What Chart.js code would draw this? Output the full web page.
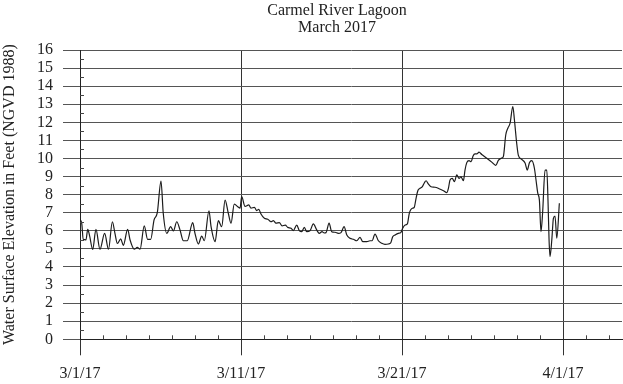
<!DOCTYPE html>
<html lang="en">
<head>
    <meta charset="UTF-8">
    <title>Carmel River Lagoon</title>
    <script src="https://cdn.jsdelivr.net/npm/chart.js@4/dist/chart.umd.min.js"></script>
    <style>
        html, body { margin: 0; padding: 0; background: #fff; }
        #wrap { width: 623px; height: 384px; }
    </style>
</head>
<body>
    <div id="wrap"><canvas id="lagoonChart" width="623" height="384"></canvas></div>

    <script>
        // days after 3/1/17 (axis unit: major gridline every 10)
        const dayOffset = [
            0, 0.11, 0.20, 0.37, 0.48, 0.59, 0.79, 0.99, 1.24, 1.53, 1.77, 2.01, 2.17, 2.32, 2.53, 2.69,
            2.96, 3.11, 3.37, 3.56, 3.73, 3.99, 4.20, 4.39, 4.60, 4.80, 5.03, 5.17, 5.39, 5.63, 5.80,
            6.01, 6.21, 6.42, 6.66, 7.00, 7.14, 7.35, 7.56, 7.72, 8.01, 8.14, 8.39, 8.59, 8.80, 9.01,
            9.21, 9.38, 9.58, 9.80, 9.94, 10.04, 10.25, 10.48, 10.62, 10.83, 10.98, 11.10, 11.24, 11.45,
            11.66, 11.86, 12.01, 12.17, 12.38, 12.55, 12.75, 12.90, 13.11, 13.25, 13.46, 13.62, 13.77,
            13.93, 14.08, 14.29, 14.49, 14.70, 14.86, 15.03, 15.17, 15.28, 15.47, 15.63, 15.84, 16.04,
            16.21, 16.40, 16.57, 16.77, 16.98, 17.19, 17.39, 17.56, 17.81, 18.01, 18.14, 18.32, 18.53,
            18.74, 18.94, 19.15, 19.30, 19.42, 19.57, 19.77, 19.92, 20.04, 20.19, 20.33, 20.45, 20.53,
            20.64, 20.76, 20.85, 20.98, 21.12, 21.26, 21.39, 21.49, 21.63, 21.80, 22.05, 22.30, 22.57,
            22.78, 22.88, 22.98, 23.12, 23.25, 23.40, 23.54, 23.66, 23.81, 23.91, 24.02, 24.16, 24.29,
            24.41, 24.53, 24.64, 24.78, 24.95, 25.26, 25.57, 25.82, 25.98, 26.15, 26.29, 26.44, 26.57,
            26.71, 26.88, 26.98, 27.12, 27.22, 27.43, 27.64, 27.78, 27.91, 28.06, 28.22, 28.32, 28.43,
            28.53, 28.63, 28.73, 28.88, 28.99, 29.07, 29.13, 29.19, 29.30, 29.40, 29.50, 29.61, 29.77
        ];

        // water surface elevation, feet
        const elevation = [
            6.64, 6.40, 5.53, 5.50, 6.08, 5.75, 4.97, 6.08, 4.98, 5.86, 4.98, 6.50, 5.86, 5.30, 5.55, 5.20,
            6.08, 5.49, 4.98, 5.08, 4.98, 6.27, 5.53, 5.53, 6.60, 7.00, 8.75, 6.97, 5.86, 6.23, 5.99,
            6.50, 6.05, 5.45, 5.45, 6.45, 5.86, 5.27, 5.71, 5.45, 7.11, 6.23, 5.40, 6.56, 6.23, 7.70,
            6.97, 6.42, 7.48, 7.33, 7.25, 7.89, 7.35, 7.43, 7.25, 7.30, 7.12, 7.19, 6.93, 6.69,
            6.64, 6.50, 6.56, 6.42, 6.45, 6.27, 6.32, 6.19, 6.14, 6.01, 6.32, 6.01, 5.95,
            6.19, 5.95, 6.01, 6.38, 6.05, 5.86, 5.95, 5.88, 5.90, 6.42, 5.95, 5.92, 5.86,
            5.90, 6.23, 5.77, 5.59, 5.53, 5.45, 5.64, 5.40, 5.40, 5.45, 5.45, 5.82, 5.45,
            5.31, 5.25, 5.27, 5.34, 5.67, 5.77, 5.86, 5.90, 6.14, 6.32, 6.38, 6.97, 7.15,
            7.25, 7.30, 7.70, 8.22, 8.35, 8.44, 8.66, 8.77, 8.59, 8.44, 8.41, 8.33, 8.22,
            8.11, 8.35, 8.81, 8.90, 8.72, 9.09, 8.90, 8.99, 8.77, 9.36, 9.77, 9.88, 9.82,
            10.14, 10.25, 10.25, 10.35, 10.22, 10.01, 9.80, 9.62, 9.90, 10.01, 10.10, 11.30, 11.67,
            11.95, 12.87, 12.13, 10.84, 10.19, 9.95, 9.75, 9.36, 9.77, 9.88, 9.46, 8.81, 8.08,
            7.70, 5.95, 7.00, 9.36, 9.36, 7.50, 5.50, 4.57, 5.49, 6.69, 6.82, 5.59, 7.52
        ];

        const dateLabels = ['3/1/17', '3/11/17', '3/21/17', '4/1/17'];
        const titleLines = ['Carmel River Lagoon', 'March 2017'];
        const minorPerMajor = 7;      // small ticks between labelled dates
        const majorStep = 10;         // days between labelled dates
        const xMax = 33.66;
        const yMin = 0, yMax = 16;

        const serif = 'Liberation Serif, Times New Roman, serif';
        const minorStep = majorStep / minorPerMajor;

        // small inward tick marks at half feet and between dates
        const minorTicks = {
            id: 'minorTicks',
            afterDatasetsDraw(chart) {
                const { ctx, scales: { x, y }, chartArea } = chart;
                ctx.save();
                ctx.strokeStyle = '#444';
                ctx.lineWidth = 1;
                ctx.beginPath();
                for (let v = yMin + 0.5; v < yMax; v += 1) {
                    const py = Math.round(y.getPixelForValue(v)) + 0.5;
                    ctx.moveTo(chartArea.left, py);
                    ctx.lineTo(chartArea.left + 4, py);
                }
                for (let k = 1; k * minorStep <= xMax; k++) {
                    if (k % minorPerMajor === 0) continue;
                    const px = Math.round(x.getPixelForValue(k * minorStep)) + 0.5;
                    ctx.moveTo(px, chartArea.bottom);
                    ctx.lineTo(px, chartArea.bottom - 4);
                }
                ctx.stroke();
                ctx.restore();
            }
        };

        // two-line title, centred a bit right of the canvas middle like the original
        const chartTitle = {
            id: 'chartTitle',
            afterDraw(chart) {
                const { ctx } = chart;
                ctx.save();
                ctx.fillStyle = '#222';
                ctx.font = '16px ' + serif;
                ctx.textAlign = 'center';
                ctx.textBaseline = 'alphabetic';
                ctx.fillText(titleLines[0], 337, 15);
                ctx.fillText(titleLines[1], 337, 31.7);
                ctx.restore();
            }
        };

        const ctx = document.getElementById('lagoonChart').getContext('2d');
        new Chart(ctx, {
            type: 'line',
            data: {
                datasets: [{
                    label: 'Water Surface Elevation',
                    data: dayOffset.map((d, i) => ({ x: d, y: elevation[i] })),
                    borderColor: '#1c1c1c',
                    borderWidth: 1.2,
                    pointRadius: 0,
                    cubicInterpolationMode: 'monotone',
                    fill: false
                }]
            },
            options: {
                responsive: false,
                animation: false,
                layout: { padding: { left: 0, right: 1, top: 50, bottom: 0 } },
                plugins: {
                    legend: { display: false },
                    tooltip: { enabled: false },
                    title: { display: false }
                },
                scales: {
                    x: {
                        type: 'linear',
                        min: 0,
                        max: xMax,
                        afterBuildTicks(scale) {
                            const t = [];
                            for (let k = 0; k * minorStep <= xMax; k++) t.push({ value: k * minorStep });
                            scale.ticks = t;
                        },
                        afterFit(scale) { scale.height = 44.7; },
                        ticks: {
                            autoSkip: false,
                            maxRotation: 0,
                            padding: 9,
                            color: '#222',
                            font: { family: serif, size: 16 },
                            callback(value, index) {
                                return index % minorPerMajor === 0 ? dateLabels[index / minorPerMajor] : '';
                            }
                        },
                        grid: {
                            color: (c) => (c.index % minorPerMajor === 0 ? '#333' : 'rgba(0,0,0,0)'),
                            tickLength: 16,
                            lineWidth: 1
                        },
                        border: { display: true, color: '#222', width: 1 }
                    },
                    y: {
                        min: yMin,
                        max: yMax,
                        afterFit(scale) { scale.width = 80; },
                        ticks: {
                            stepSize: 1,
                            autoSkip: false,
                            padding: 10,
                            color: '#222',
                            font: { family: serif, size: 16, lineHeight: 1 }
                        },
                        grid: {
                            color: '#555',
                            tickLength: 17,
                            lineWidth: 1
                        },
                        border: { display: true, color: '#222', width: 1 },
                        title: {
                            display: true,
                            text: 'Water Surface Elevation in Feet (NGVD 1988)',
                            color: '#222',
                            font: { family: serif, size: 16, weight: 'normal' },
                            padding: { top: 0, bottom: 0 }
                        }
                    }
                }
            },
            plugins: [minorTicks, chartTitle]
        });
    </script>
</body>
</html>
